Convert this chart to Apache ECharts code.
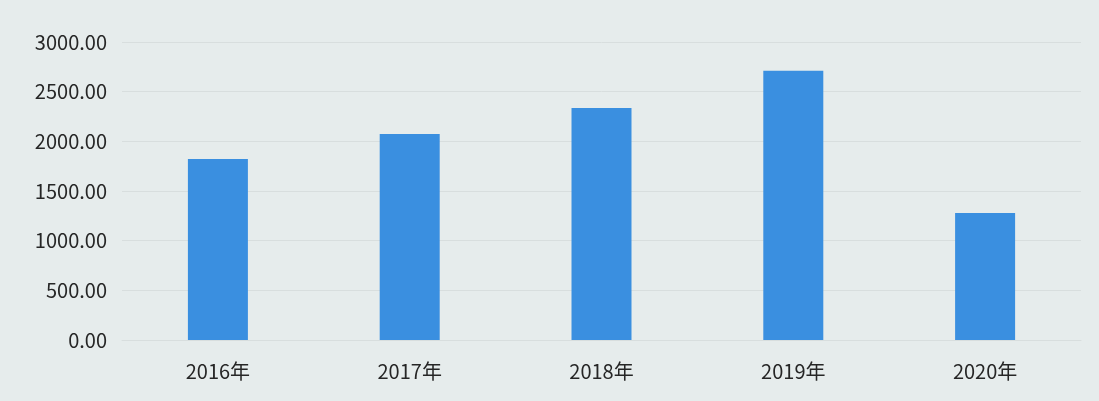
<!DOCTYPE html>
<html><head><meta charset="utf-8">
<script src="https://cdn.jsdelivr.net/npm/echarts@6/dist/echarts.min.js"></script>
<style>html,body{margin:0;padding:0;background:#e5ebeb;}#c{width:1099px;height:401px;}</style>
</head><body><div id="c"></div>
<script>
const categories = ['2016年','2017年','2018年','2019年','2020年'];
const values = [1822, 2075, 2336, 2710, 1278];
const yTicks = {min: 0, max: 3000, interval: 500};

const chart = echarts.init(document.getElementById('c'), null, {renderer: 'canvas'});
chart.setOption({
  backgroundColor: '#e6ecec',
  animation: false,
  grid: {left: 122, right: 18, top: 42, bottom: 61},
  xAxis: {
    type: 'category', data: categories,
    axisLine: {show: true, lineStyle: {color: '#d8dede'}},
    axisTick: {show: false},
    axisLabel: {margin: 21, color: '#262626', fontSize: 20, fontFamily: '"Noto Sans CJK SC", "Open Sans", sans-serif'}
  },
  yAxis: {
    type: 'value', min: yTicks.min, max: yTicks.max, interval: yTicks.interval,
    axisLine: {show: false}, axisTick: {show: false},
    splitLine: {lineStyle: {color: '#d8dede', width: 1}},
    axisLabel: {margin: 15, color: '#262626', fontSize: 20, fontFamily: '"Noto Sans CJK SC", "Open Sans", sans-serif',
      formatter: v => v.toFixed(2)}
  },
  series: [{
    type: 'bar', data: values, barWidth: 60,
    itemStyle: {color: '#3a8fe0'}
  }]
});
</script></body></html>
